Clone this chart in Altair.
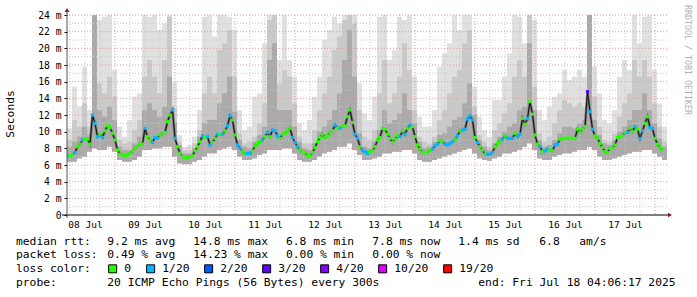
import json
import altair as alt
import pandas as pd

# ---------------- data ----------------
# hourly median RTT (ms), first sample 08 Jul 05:00
first_hour = 5
median_ms = [
    7.1, 7.1, 7.2, 7.5, 8.2, 8.5, 9.0, 9.1, 9.1, 8.5,
    12.0, 11.0, 9.4, 9.7, 9.3, 10.1, 10.7, 10.5, 9.8, 9.0,
    7.8, 7.3, 7.2, 7.1, 7.2, 7.4, 7.7, 8.0, 8.2, 8.5,
    8.5, 10.4, 9.4, 9.0, 8.7, 9.3, 9.2, 9.6, 9.9, 9.9,
    11.2, 12.0, 12.6, 9.2, 8.2, 7.4, 7.0, 6.9, 6.8, 7.0,
    7.1, 7.7, 8.2, 8.8, 9.5, 9.3, 9.4, 8.4, 8.7, 9.2,
    9.7, 9.7, 9.7, 10.1, 10.7, 11.9, 11.4, 9.6, 8.4, 8.0,
    7.6, 7.3, 7.4, 7.4, 7.7, 8.3, 8.6, 8.8, 9.0, 9.4,
    9.9, 9.4, 10.2, 10.1, 9.5, 9.2, 9.7, 9.8, 10.1, 10.4,
    9.3, 8.7, 8.2, 7.8, 7.5, 7.5, 7.1, 7.1, 7.5, 8.1,
    8.8, 9.3, 9.7, 9.3, 9.5, 9.9, 10.1, 10.8, 10.4, 10.4,
    10.7, 10.7, 11.8, 12.6, 11.1, 9.7, 9.2, 8.2, 7.8, 7.6,
    7.4, 7.6, 7.7, 8.2, 9.0, 9.3, 10.4, 10.3, 9.7, 9.2,
    8.7, 9.1, 9.5, 9.4, 10.1, 9.7, 10.4, 10.8, 10.6, 9.4,
    8.4, 7.9, 7.5, 7.5, 7.5, 7.8, 7.9, 8.3, 8.5, 8.9,
    8.9, 8.5, 8.4, 8.6, 8.8, 9.1, 9.5, 10.1, 10.2, 10.3,
    11.5, 11.9, 11.4, 9.3, 8.7, 8.2, 7.8, 7.3, 7.3, 7.3,
    7.5, 8.2, 8.6, 8.9, 9.1, 9.5, 9.2, 9.2, 9.2, 9.8,
    9.4, 9.7, 11.6, 10.9, 11.6, 13.6, 12.1, 9.6, 8.5, 8.2,
    7.6, 7.7, 7.9, 7.8, 7.7, 8.4, 8.5, 9.1, 9.2, 9.2,
    9.2, 9.2, 9.2, 9.2, 10.3, 9.9, 10.3, 10.6, 14.8, 12.4,
    10.3, 9.5, 9.2, 8.6, 8.1, 7.6, 7.5, 8.0, 8.0, 8.4,
    9.3, 9.4, 9.5, 9.9, 9.9, 10.4, 10.0, 10.6, 10.3, 9.2,
    10.1, 11.0, 11.8, 10.5, 10.4, 9.2, 8.5, 8.1, 7.8,
]
# sample indices with lost pings
loss_1_of_20 = [0, 3, 6, 10, 11, 12, 14, 31, 34, 35, 36, 42, 43, 54, 56, 57, 60, 62,
                64, 65, 68, 69, 72, 73, 78, 80, 82, 83, 84, 90, 91, 92, 107, 109, 115,
                116, 118, 119, 120, 133, 135, 137, 146, 147, 148, 151, 152, 153, 154,
                156, 158, 159, 160, 161, 162, 164, 168, 169, 170, 174, 176, 177, 178,
                180, 181, 184, 189, 191, 192, 195, 196, 209, 210, 224, 227, 229, 230,
                233, 234]
loss_3_of_20 = [208]

# smoke envelope, 2-hour bins starting 08 Jul 04:48
smoke_start = 4.8
smoke_lo = [
    6.4, 6.4, 6.8, 7.0, 7.6, 8.0, 7.8, 7.8, 8.2, 7.6,
    6.6, 6.4, 6.4, 6.6, 7.0, 7.8, 7.8, 8.0, 8.0, 8.2,
    8.2, 7.0, 6.2, 6.1, 6.1, 6.4, 6.6, 7.0, 7.4, 7.4,
    7.8, 8.0, 8.2, 7.8, 7.0, 6.6, 6.6, 6.8, 7.2, 7.4,
    7.8, 7.8, 7.8, 8.0, 8.0, 7.4, 6.6, 6.4, 6.4, 6.6,
    7.0, 7.4, 7.6, 7.8, 8.2, 8.2, 8.6, 7.8, 7.2, 6.6,
    6.6, 6.8, 7.0, 7.4, 7.4, 7.6, 7.6, 7.8, 7.8, 7.4,
    6.6, 6.4, 6.4, 6.6, 6.8, 7.0, 7.2, 7.4, 7.6, 7.8,
    8.0, 7.4, 6.8, 6.6, 6.5, 6.8, 7.0, 7.4, 7.4, 7.6,
    7.8, 8.2, 8.6, 7.8, 6.8, 6.6, 6.6, 7.0, 7.2, 7.4,
    7.4, 7.6, 7.8, 7.8, 8.2, 7.8, 7.0, 6.6, 6.6, 6.8,
    7.0, 7.2, 7.4, 7.6, 7.6, 7.8, 7.8, 7.4, 7.0, 6.6,
]
smoke_hi_light = [
    10.4, 15.4, 13.0, 17.8, 12.6, 24, 23.4, 23.8, 24, 17.4,
    10.6, 9.4, 11.4, 14.2, 14.6, 24, 23.8, 24, 22.2, 23.0,
    24, 16.0, 9.6, 8.2, 8.4, 9.4, 12.6, 23.8, 24, 21.4,
    24, 24, 23.8, 22.2, 12.6, 10.2, 10.6, 14.2, 14.6, 20.6,
    24, 24, 18.6, 24, 18.6, 16.6, 11.0, 10.2, 11.4, 14.2,
    16.6, 21.0, 22.2, 23.8, 23.0, 24, 24, 24, 15.8, 12.2,
    11.4, 14.2, 23.8, 24, 18.6, 19.8, 23.8, 23.4, 24, 16.6,
    11.8, 10.6, 10.6, 12.6, 17.8, 19.4, 20.6, 24, 22.2, 24,
    24, 15.4, 11.8, 10.2, 9.4, 13.8, 13.8, 16.6, 19.4, 24,
    23.8, 20.6, 24, 23.4, 12.6, 11.4, 13.0, 14.2, 14.6, 17.4,
    16.2, 16.6, 17.4, 16.6, 24, 17.8, 14.6, 11.4, 11.0, 12.6,
    16.6, 18.6, 17.4, 24, 20.6, 23.8, 24, 17.4, 13.4, 10.6,
]
smoke_hi_mid = [
    9.0, 11.4, 10.6, 13.4, 10.6, 24, 15.8, 14.6, 16.6, 14.2,
    9.0, 8.6, 8.8, 10.2, 11.4, 16.6, 18.6, 16.6, 14.6, 18.6,
    23.8, 12.8, 8.8, 7.8, 7.8, 8.6, 10.2, 14.6, 16.6, 14.6,
    19.8, 20.6, 22.2, 16.6, 9.8, 8.6, 8.8, 9.4, 11.0, 13.4,
    23.4, 24, 15.8, 17.4, 16.6, 13.4, 9.4, 8.6, 8.6, 10.2,
    12.6, 14.6, 16.6, 19.8, 21.4, 23.4, 24, 23.0, 12.6, 9.4,
    9.0, 10.2, 14.6, 18.6, 13.4, 14.6, 16.6, 20.6, 17.4, 12.6,
    9.4, 8.8, 8.6, 9.4, 11.4, 12.6, 14.6, 16.6, 17.4, 20.6,
    22.2, 13.0, 9.6, 8.8, 8.2, 10.2, 11.0, 12.2, 13.4, 16.6,
    18.6, 16.6, 24, 15.4, 9.8, 8.8, 9.4, 11.0, 12.6, 13.8,
    13.4, 13.0, 13.4, 13.0, 24, 14.2, 10.6, 9.0, 8.8, 9.8,
    11.8, 13.4, 14.6, 18.6, 16.6, 18.6, 16.6, 13.4, 10.6, 8.8,
]
smoke_hi_dark = [
    8.2, 8.8, 9.4, 10.6, 9.6, 24, 12.6, 11.8, 13.0, 11.4,
    8.2, 7.8, 7.8, 8.6, 9.4, 12.6, 13.4, 12.6, 11.8, 13.0,
    16.6, 11.0, 8.4, 7.4, 7.4, 8.0, 9.4, 11.0, 11.4, 11.4,
    13.4, 14.6, 16.6, 12.4, 9.0, 8.2, 8.0, 8.8, 9.6, 10.6,
    18.6, 20.6, 12.6, 12.6, 12.6, 10.6, 8.8, 8.0, 7.8, 8.6,
    10.0, 10.6, 11.4, 12.6, 14.6, 18.6, 22.2, 16.6, 9.8, 8.2,
    8.0, 8.8, 10.2, 12.6, 11.0, 11.4, 12.2, 14.6, 12.6, 11.0,
    8.8, 8.0, 8.2, 8.8, 9.6, 9.8, 10.6, 11.4, 11.8, 13.4,
    15.8, 12.0, 9.0, 8.2, 7.8, 8.6, 9.4, 10.0, 10.6, 11.0,
    12.6, 13.0, 20.6, 12.6, 9.0, 8.2, 8.4, 9.0, 9.8, 10.6,
    10.6, 10.4, 11.0, 11.4, 24, 11.4, 9.6, 8.6, 8.4, 9.0,
    10.0, 10.6, 11.4, 12.6, 12.6, 14.6, 12.6, 11.0, 9.2, 8.2,
]

loss_labels = ["0", "1/20", "2/20", "3/20", "4/20", "10/20", "19/20"]
loss_colors = ["#26ff00", "#00b8ff", "#0059ff", "#5e00ff", "#7e00ff", "#dd00ff", "#ff0000"]

day_labels = ["08 Jul", "09 Jul", "10 Jul", "11 Jul", "12 Jul",
              "13 Jul", "14 Jul", "15 Jul", "16 Jul", "17 Jul"]
y_ticks = [0, 2, 4, 6, 8, 10, 12, 14, 16, 18, 20, 22, 24]
y_minor = [1, 3, 5, 7, 9, 11, 13, 15, 17, 19, 21, 23]
x_major = [24, 48, 72, 96, 120, 144, 168, 192, 216, 240]
x_minor = [6, 12, 18, 30, 36, 42, 54, 60, 66, 78, 84, 90, 102, 108, 114, 126, 132, 138,
           150, 156, 162, 174, 180, 186, 198, 204, 210, 222, 228, 234]
label_hours = [12, 36, 60, 84, 108, 132, 156, 180, 204, 228]

legend_cols = [16, 107.3, 193.3, 286, 372.3, 458.3, 539.3, 579.3]
legend_rows = [241.7, 255, 269, 282.7]
legend_texts = [
    (0, 0, "median rtt:"), (0, 1, "9.2 ms avg"), (0, 2, "14.8 ms max"),
    (0, 3, "6.8 ms min"), (0, 4, "7.8 ms now"), (0, 5, "1.4 ms sd"),
    (0, 6, "6.8"), (0, 7, "am/s"),
    (1, 0, "packet loss:"), (1, 1, "0.49 % avg"), (1, 2, "14.23 % max"),
    (1, 3, "0.00 % min"), (1, 4, "0.00 % now"),
    (3, 0, "probe:"), (3, 1, "20 ICMP Echo Pings (56 Bytes) every 300s"),
]
end_text = "end: Fri Jul 18 04:06:17 2025"
end_x = 478.3

# ---------------- tables ----------------
PLOT_X, PLOT_Y = 67, 15
W, H = 600, 200
MONO = "DejaVu Sans Mono"

loss = [0] * len(median_ms)
for i in loss_1_of_20:
    loss[i] = 1
for i in loss_3_of_20:
    loss[i] = 3
label_of = {0: "0", 1: "1/20", 2: "2/20", 3: "3/20", 4: "4/20", 10: "10/20", 19: "19/20"}

med = pd.DataFrame({
    "hour": [first_hour + i for i in range(len(median_ms))],
    "ms": median_ms,
    "loss": [label_of[v] for v in loss],
})
smoke = pd.DataFrame({
    "h0": [smoke_start + 2 * i for i in range(len(smoke_lo))],
    "h1": [smoke_start + 2 * i + 2 for i in range(len(smoke_lo))],
    "lo": smoke_lo, "hi1": smoke_hi_light, "hi2": smoke_hi_mid, "hi3": smoke_hi_dark,
})

xs = alt.Scale(domain=[4.8, 244.8], nice=False, zero=False)
ys = alt.Scale(domain=[0, 24], nice=False, zero=False)

# identical axis definitions are given to every layer so that they merge cleanly
x_axis = alt.Axis(values=label_hours, labelExpr=json.dumps(day_labels) + "[floor(datum.value/24)]",
                  ticks=False, grid=False, domain=False, title=None, labelFont=MONO,
                  labelFontSize=9.5, labelColor="#000", labelPadding=4, labelAngle=0)
y_axis = alt.Axis(values=y_ticks, labelExpr="datum.value == 0 ? '0' : datum.value + ' m'",
                  grid=False, domain=False, title=None, tickSize=3, tickColor="#000",
                  labelFont=MONO, labelFontSize=9.7, labelColor="#000", labelPadding=3)


def X(field):
    return alt.X(field, scale=xs, axis=x_axis)


def Y(field):
    return alt.Y(field, scale=ys, axis=y_axis)


def band(hi, color):
    return alt.Chart(smoke).mark_rect(color=color, clip=True).encode(
        x=X("h0:Q"), x2="h1:Q", y=Y("lo:Q"), y2=f"{hi}:Q")


smoke_light = band("hi1", "#e0e0e0")
smoke_mid = band("hi2", "#c9c9c9")
smoke_dark = band("hi3", "#aaaaaa")

gy_minor = alt.Chart(pd.DataFrame({"v": y_minor})).mark_rule(
    color="#c8c8c8", strokeDash=[1, 2], strokeWidth=1).encode(y=Y("v:Q"))
gy_major = alt.Chart(pd.DataFrame({"v": y_ticks[1:]})).mark_rule(
    color="#e39a9a", strokeDash=[1, 2], strokeWidth=1).encode(y=Y("v:Q"))
gx_minor = alt.Chart(pd.DataFrame({"v": x_minor})).mark_rule(
    color="#c8c8c8", strokeDash=[1, 2], strokeWidth=1).encode(x=X("v:Q"))
gx_major = alt.Chart(pd.DataFrame({"v": x_major})).mark_rule(
    color="#e39a9a", strokeDash=[1, 2], strokeWidth=1).encode(x=X("v:Q"))

med_shadow = alt.Chart(med).mark_line(color="#707070", strokeWidth=2.5, clip=True).encode(
    x=X("hour:Q"), y=Y("ms:Q"))
med_line = alt.Chart(med).mark_line(color="#111111", strokeWidth=1, clip=True).encode(
    x=X("hour:Q"), y=Y("ms:Q"))
med_pts = alt.Chart(med).mark_square(size=10, opacity=1, clip=True).encode(
    x=X("hour:Q"), y=Y("ms:Q"),
    color=alt.Color("loss:N", scale=alt.Scale(domain=loss_labels, range=loss_colors),
                    legend=alt.Legend(
                        title="loss color:", orient="none", legendX=16 - PLOT_X,
                        legendY=269 - PLOT_Y - 6, direction="horizontal", titleOrient="left",
                        titleFont=MONO, titleFontSize=11.3, titleFontWeight="normal",
                        titleColor="#000", titlePadding=16, titleBaseline="middle",
                        labelFont=MONO, labelFontSize=11.3, labelColor="#000",
                        symbolType="square", symbolSize=64, symbolStrokeColor="#000",
                        symbolStrokeWidth=1, symbolOpacity=1, columnPadding=12,
                        labelOffset=6, padding=0)),
)

one = pd.DataFrame({"a": [0]})
axis_x_line = alt.Chart(one).mark_rule(color="#000", strokeWidth=1).encode(
    x=alt.value(-5), x2=alt.value(W + 1), y=alt.value(H))
axis_y_line = alt.Chart(one).mark_rule(color="#555", strokeWidth=1).encode(
    x=alt.value(0), y=alt.value(-3), y2=alt.value(H + 3))
arrow_up = alt.Chart(one).mark_point(
    shape="triangle-up", filled=True, color="#8b1a1a", size=22, opacity=1).encode(
    x=alt.value(0), y=alt.value(-5))
arrow_right = alt.Chart(one).mark_point(
    shape="triangle-right", filled=True, color="#8b1a1a", size=22, opacity=1).encode(
    x=alt.value(W + 3), y=alt.value(H))

# legend lines as separate text layers positioned in pixels
text_items = [(legend_cols[c], legend_rows[r], t) for r, c, t in legend_texts]
text_items.append((end_x, legend_rows[3], end_text))
text_layers = []
for px, py, t in text_items:
    text_layers.append(
        alt.Chart(pd.DataFrame({"t": [t]})).mark_text(
            font=MONO, fontSize=11.3, align="left", baseline="middle", color="#000").encode(
            x=alt.value(px - PLOT_X), y=alt.value(py - PLOT_Y), text="t:N"))

seconds = alt.Chart(pd.DataFrame({"t": ["Seconds"]})).mark_text(
    font=MONO, fontSize=11.3, angle=270, align="center", baseline="middle", color="#000").encode(
    x=alt.value(11 - PLOT_X), y=alt.value(114 - PLOT_Y), text="t:N")
watermark = alt.Chart(pd.DataFrame({"t": ["RRDTOOL / TOBI OETIKER"]})).mark_text(
    font=MONO, fontSize=8.3, angle=90, align="center", baseline="middle", color="#b0b0b0").encode(
    x=alt.value(687 - PLOT_X), y=alt.value(60 - PLOT_Y), text="t:N")

chart = alt.layer(
    smoke_light, smoke_mid, smoke_dark,
    gy_minor, gx_minor, gy_major, gx_major,
    med_shadow, med_line, med_pts,
    axis_x_line, axis_y_line, arrow_up, arrow_right,
    *text_layers, seconds, watermark,
).properties(
    width=W, height=H,
    autosize=alt.AutoSizeParams(type="none"),
    padding={"left": PLOT_X, "top": PLOT_Y, "right": 697 - PLOT_X - W, "bottom": 297 - PLOT_Y - H},
    background="white",
).configure_view(stroke=None)

chart.save("out.html", embed_options={"renderer": "svg", "actions": False})
